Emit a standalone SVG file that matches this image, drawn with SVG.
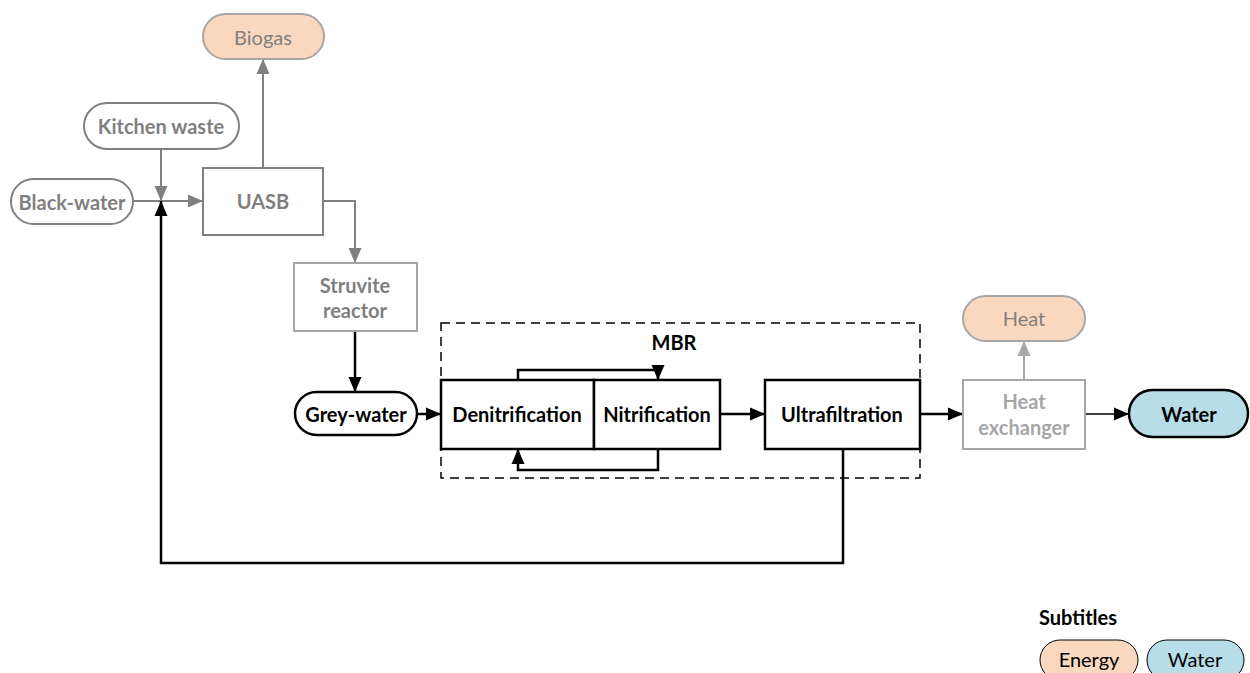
<svg xmlns="http://www.w3.org/2000/svg" width="1250" height="673" viewBox="0 0 1250 673">
<style>
text{font-family:Lato,"Liberation Sans",sans-serif;font-size:20px;text-anchor:middle;dominant-baseline:central}
.b{font-weight:bold}
.g{fill:#7f7f7f}
.lg{fill:#a6a6a6}
.k{fill:#000}
.gbox{fill:#fff;stroke:#808080;stroke-width:2}
.lbox{fill:#fff;stroke:#a6a6a6;stroke-width:2}
.kbox{fill:#fff;stroke:#000;stroke-width:2.5}
.energy{fill:#f9d8bf;stroke:#a6a6a6;stroke-width:2}
.water{fill:#b7dee8;stroke:#000;stroke-width:2.5}
.c{fill:none}
.cg{stroke:#808080;stroke-width:2}
.cl{stroke:#a6a6a6;stroke-width:2}
.ck{stroke:#000;stroke-width:2.5}
</style>
<defs>
<marker id="ag" markerUnits="userSpaceOnUse" markerWidth="15" markerHeight="15" viewBox="0 0 15 15" refX="15" refY="7.5" orient="auto"><path d="M0,1 L15,7.5 L0,14 Z" fill="#808080"/></marker>
<marker id="al" markerUnits="userSpaceOnUse" markerWidth="15" markerHeight="15" viewBox="0 0 15 15" refX="15" refY="7.5" orient="auto"><path d="M0,1 L15,7.5 L0,14 Z" fill="#a6a6a6"/></marker>
<marker id="ak" markerUnits="userSpaceOnUse" markerWidth="15" markerHeight="15" viewBox="0 0 15 15" refX="15" refY="7.5" orient="auto"><path d="M0,1 L15,7.5 L0,14 Z" fill="#000"/></marker>
</defs>

<g id="connectors" class="c">
<path class="c cg" d="M161 149 V201" marker-end="url(#ag)"/>
<path class="c cg" d="M133 201 H203" marker-end="url(#ag)"/>
<path class="c cg" d="M263 168 V59" marker-end="url(#ag)"/>
<path class="c cg" d="M323 201 H355 V263" marker-end="url(#ag)"/>
<path class="c ck" d="M355 331 V392" marker-end="url(#ak)"/>
<path class="c ck" d="M417 414 H441" marker-end="url(#ak)"/>
<path class="c ck" d="M720 414 H765" marker-end="url(#ak)"/>
<path class="c ck" d="M920 414 H963" marker-end="url(#ak)"/>
<path class="c" stroke="#000" stroke-width="1.5" d="M1085 414 H1129" marker-end="url(#ak)"/>
<path class="c cl" d="M1024 380 V341" marker-end="url(#al)"/>
<path class="c ck" d="M518 380 V370 H658 V380" marker-end="url(#ak)"/>
<path class="c ck" d="M658 449 V470 H518 V449" marker-end="url(#ak)"/>
<path class="c ck" d="M843 449 V563 H161 V201" marker-end="url(#ak)"/>
</g>

<g id="mbr">
<rect x="441" y="323" width="479" height="155" fill="none" stroke="#000" stroke-width="1.5" stroke-dasharray="9,6"/>
<text class="b k" x="674" y="342">MBR</text>
</g>

<g id="biogas"><rect class="energy" x="203" y="14" width="121" height="45" rx="22.5"/><text class="g" x="263" y="37">Biogas</text></g>
<g id="kitchen-waste"><rect class="gbox" x="84" y="103" width="155" height="46" rx="23"/><text class="b g" x="161" y="126">Kitchen waste</text></g>
<g id="black-water"><rect class="gbox" x="11" y="179" width="122" height="45" rx="22.5"/><text class="b g" x="72" y="202">Black-water</text></g>
<g id="uasb"><rect class="gbox" x="203" y="168" width="120" height="67"/><text class="b g" x="263" y="201">UASB</text></g>
<g id="struvite"><rect class="lbox" x="294" y="263" width="123" height="68"/><text class="b g" x="355" y="285">Struvite</text><text class="b g" x="355" y="310">reactor</text></g>
<g id="grey-water"><rect class="kbox" x="295" y="392" width="122" height="43" rx="21.5"/><text class="b k" x="356" y="414">Grey-water</text></g>
<g id="denitrification"><rect class="kbox" x="441" y="380" width="153" height="69"/><text class="b k" x="517" y="414">Denitrification</text></g>
<g id="nitrification"><rect class="kbox" x="594" y="380" width="126" height="69"/><text class="b k" x="657" y="414">Nitrification</text></g>
<g id="ultrafiltration"><rect class="kbox" x="765" y="380" width="155" height="69"/><text class="b k" x="842" y="414">Ultrafiltration</text></g>
<g id="heat"><rect class="energy" x="963" y="296" width="122" height="45" rx="22.5"/><text class="g" x="1024" y="318">Heat</text></g>
<g id="heat-exchanger"><rect class="lbox" x="963" y="380" width="122" height="69"/><text class="b lg" x="1024" y="401">Heat</text><text class="b lg" x="1024" y="427">exchanger</text></g>
<g id="water"><rect class="water" x="1129" y="390" width="119" height="47" rx="23.5"/><text class="b k" x="1189" y="414">Water</text></g>

<g id="legend">
<text class="b k" x="1078" y="617">Subtitles</text>
<g id="legend-energy"><rect fill="#f9d8bf" stroke="#000" stroke-width="1" x="1040" y="640" width="98" height="40" rx="20"/><text class="k" x="1089" y="659">Energy</text></g>
<g id="legend-water"><rect fill="#b7dee8" stroke="#000" stroke-width="1" x="1147" y="640" width="97" height="40" rx="20"/><text class="k" x="1195" y="659">Water</text></g>
</g>
</svg>
